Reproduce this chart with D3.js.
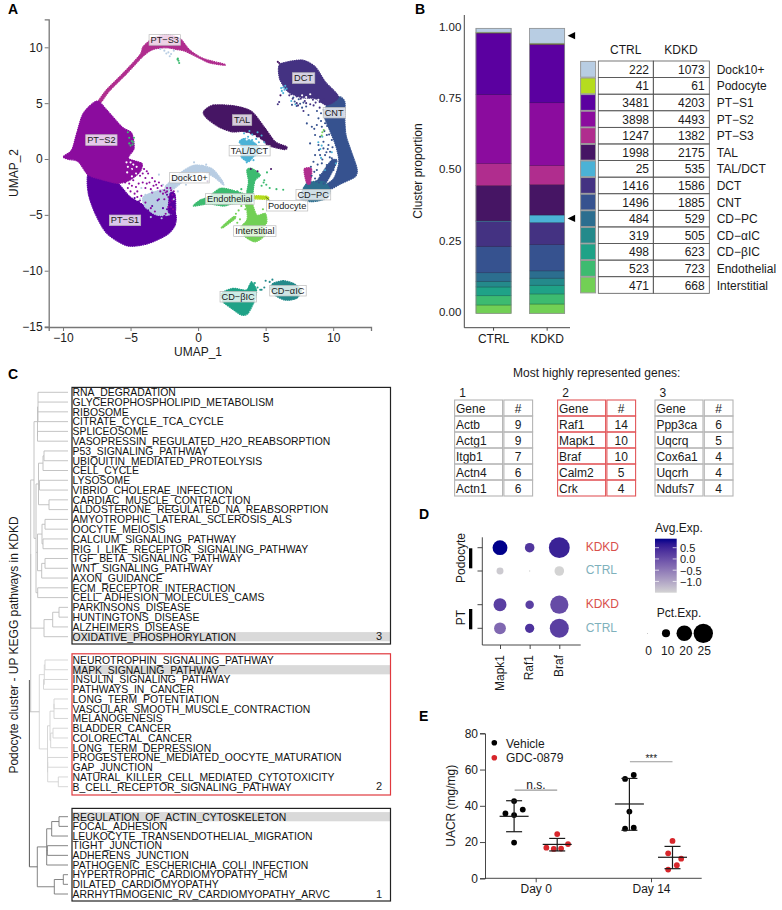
<!DOCTYPE html>
<html><head><meta charset="utf-8">
<script src="https://cdn.jsdelivr.net/npm/d3@7"></script>
<style>
html,body{margin:0;padding:0;background:#fff}
svg{display:block}
text{font-family:"Liberation Sans",Arial,sans-serif;fill:#1a1a1a}
</style></head><body><svg id="c" width="782" height="910"></svg>
<script>
// ---------- Panel A data (UMAP coordinates) ----------
const clusterColors={"Dock10+":"#B8CDE3","Podocyte":"#B5DC1E","PT-S1":"#5B00A0","PT-S2":"#8B0C9E","PT-S3":"#B02D8E","TAL":"#461564","TAL/DCT":"#4BB2D6","DCT":"#443282","CNT":"#36528F","CD-PC":"#2C6E8F","CD-aIC":"#248A8B","CD-bIC":"#1FA287","Endothelial":"#3DBB70","Interstitial":"#72D055"};
const blobs=[
["PT-S3",[[-7.41,5.13],[-6.79,6.18],[-5.56,7.67],[-4.32,9.31],[-4.07,10.06],[-3.33,10.81],[-2.35,11.1],[-1.36,10.81],[-.62,9.76],[.37,9.01],[1.9,8.51],[1.9,8.4],[.86,8.6],[.12,9.01],[-.99,9.66],[-1.6,9.81],[-2.35,9.96],[-3.33,9.81],[-4.07,9.21],[-5.31,7.62],[-6.54,6.13],[-7.16,5.13]]],
["PT-S1",[[-8.13,-1.35],[-7.01,-1.85],[-6,-2.1],[-5.04,-3.38],[-3.8,-4.27],[-2.81,-5.01],[-1.7,-4.86],[-1.7,-5.91],[-2.32,-6.8],[-3.8,-7.61],[-5.28,-7.76],[-6.76,-6.65],[-7.63,-4.86],[-8.13,-3.07]]],
["PT-S2",[[-9.98,.21],[-9.36,.81],[-8.99,2.3],[-8.5,4.09],[-7.5,5.19],[-6.76,4.39],[-5.65,2.89],[-4.91,2.3],[-4.74,.96],[-5.16,.06],[-4.17,-.39],[-4.3,-1.14],[-5.04,-1.88],[-5.9,-2.18],[-7.01,-1.88],[-8.13,-1.43],[-8.87,-.24],[-9.6,-.03]]],
["Dock10+",[[-4.05,-3.38],[-2.81,-2.78],[-2.07,-2.93],[-1.95,-4.86],[-3.06,-5.01],[-3.93,-4.27]]],
["PT-S1",[[-2.07,-3.07],[-1.7,-3.22],[-1.7,-4.86],[-2.2,-4.72]]],
["Dock10+",[[-2.44,-2.48],[-1.2,-1.14],[-.22,-.54],[1,-.84],[1.76,-1.88],[1.88,-2.33],[1.14,-1.59],[.15,-1.14],[-.96,-1.88],[-1.95,-2.78]]],
["TAL/DCT",[[3.04,1.55],[3.49,1.85],[4.23,1.4],[4.6,.65],[4.1,.2],[3.73,-.24],[3.19,.2],[3.29,1.1]]],
["TAL",[[.4,4.24],[1.14,4.83],[2.75,4.74],[3.98,4.24],[4.97,2.74],[5.71,1.55],[6.55,1.1],[6.4,.85],[5.21,1.2],[4.72,1.76],[3.49,2.44],[2.5,2.44],[1.51,2.89],[.65,3.64]]],
["CNT",[[9.53,4.83],[10.39,5.58],[10.86,5.13],[10.86,3.64],[10.95,2.15],[11.26,.96],[11.76,-.83],[11.63,-1.58],[10.64,-2.18],[9.65,-2.78],[9.28,-2.48],[10.05,-1.73],[10.42,-.24],[10.17,1.25],[9.68,2.75],[9.31,3.94]]],
["CNT",[[8.67,-2.33],[9.78,-.24],[10.27,-.24],[9.28,-2.48]]],
["DCT",[[5.95,8.12],[6.2,8.57],[7.68,8.86],[8.67,8.26],[9.41,6.92],[10.39,5.58],[9.53,4.83],[8.67,5.4],[7.68,5.5],[6.69,6.0],[6.07,7.07]]],
["CD-PC",[[8.05,-2.18],[9.28,-2.03],[9.78,-2.78],[9.53,-3.52],[8.42,-3.82],[7.56,-3.52]]],
["PT-S3",[[7.85,-.9],[8.4,-.9],[8.3,-2.18],[8.02,-2.1]]],
["CD-aIC",[[5.56,-11.13],[6.3,-10.9],[7.04,-11.13],[7.65,-11.73],[7.28,-12.48],[6.42,-12.63],[5.68,-12.18],[5.36,-11.58]]],
["CD-bIC",[[1.73,-12.03],[2.59,-11.58],[3.58,-11.73],[3.95,-10.99],[4.32,-11.73],[4.2,-12.63],[3.7,-13.82],[3.21,-13.97],[2.47,-13.37],[1.85,-12.78]]],
["Interstitial",[[3.49,-3.97],[3.98,-3.97],[4.35,-5.02],[4.97,-4.87],[5.09,-5.62],[4.84,-6.21],[4.97,-6.81],[4.23,-7.41],[3.49,-6.96],[3.12,-6.21],[3.61,-5.47],[3.61,-4.57]]],
["Interstitial",[[1.76,-6.06],[2.62,-5.17],[2.75,-5.32],[1.88,-6.12]]],
["Endothelial",[[-.34,-4.21],[.15,-3.68],[.77,-3.38],[1.63,-2.63],[2.5,-2.78],[3.98,-3.38],[3.98,-3.82],[2.5,-4.03],[1.88,-4.21],[.77,-4.03]]],
["Endothelial",[[3.61,-.99],[3.98,-.84],[4.6,-1.44],[4.23,-1.88],[4.1,-2.63],[4.03,-3.23],[3.61,-3.08],[3.73,-2.03]]],
["Podocyte",[[4.07,-3.3],[5.06,-3.33],[5.19,-3.6],[4.07,-3.55]]]
];
const scatterPoints={
"PT-S2":[[-4.9,-.6],[-4.6,-1],[-4.3,-1.5],[-5.1,-1.6],[-4.8,-1.9],[-4.4,-2.2],[-3.9,-1.7],[-3.6,-2.1],[-3.2,-2],[-3,-2.6],[-2.7,-2.4],[-2.3,-2.6],[-2,-2.8],[-3.9,-2.6],[-4.5,-2.9],[-4.9,-2.4],[-5,-2.9],[-4.2,-3.3],[-3.4,-3],[-2.2,-3.4],[-1.9,-3.2],[-2.6,-3.1],[-4.8,-.2],[-5.2,-.9],[-5.3,-1.5],[-4,-.9],[-3.7,-1.3],[-4.7,-1.4],[-5.4,-2.1],[-5.1,-2.2],[-4.6,-2.5],[-4.1,-2.1],[-3.3,-2.4],[-2.9,-2.1],[-2.5,-2.8],[-1.9,-3.7],[-2.1,-3.9],[-2,-4.3],[-1.85,-4.5],[-3.8,-2.2],[-3.5,-2.7],[-2.8,-2.9],[-2.4,-3],[-3.1,-2.3],[-2.05,-2.6],[-1.8,-2.9],[-1.75,-3.5],[-2.3,-2.9],[-4.5,-3.4],[-4.7,-3.1],[-5.2,-2.6],[-4.3,-3.7],[-3.9,-3.9],[-3.5,-4.4],[-3.2,-4.7],[-2.9,-3.6],[-2.5,-3.6],[-2.2,-4.3],[-2.4,-4.9],[-3.8,-1.1],[-4.1,-1.3],[-3.4,-1.7],[-4.9,-1.2],[-5,-.95]],
"PT-S1":[[-1.9,-3],[-2.1,-3.5],[-2,-4],[-2.3,-4.5],[-2.6,-4.4],[-3.4,-4.2],[-4.4,-3.8],[-4.7,-3.5],[-3,-3.7],[-2.3,-3.2],[-1.8,-4.2],[-4.6,-3.9],[-4.2,-4.1],[-3.7,-4.6],[-3.1,-5.2],[-2.5,-5.1]],
"Dock10+":[[-1.8,-3.6],[-2.6,-2.3],[-3.4,-2.9],[-4.2,-2.6],[-2.9,-1.4],[-1.5,-2.9],[-.9,-2.3],[.1,-1],[.3,-.6],[-.6,-.8],[-2.4,-4.7],[-3.5,-5.2],[-2.7,-5.3],[-2.2,9.55],[-2.5,9.7],[-2,9.4],[-2.8,9.85],[-1.8,9.7],[-.3,-.3],[.6,-.5],[-2.1,9.2],[-2.35,9.45],[-4.3,-3.6],[-3.9,-3.2]],
"TAL/DCT":[[3.4,2.3],[3.7,2],[4,2.2],[4.3,1.8],[3.6,1.5],[4.1,1.3],[4.5,1.5],[3.2,1.1],[3.9,.9],[4.5,1],[4.7,2.1],[3.3,.9],[4,1.7],[3.8,2.5],[4.4,2.4],[3.5,.2],[3.9,.4],[4.1,-.1],[3.6,-.3],[4.8,.9],[4.9,1.5],[6.3,6.4],[6.4,6.2],[6.2,6.1],[6.45,6.55],[6.15,6.35],[6.3,5.9],[6.55,6.3],[9.1,.1],[9.4,-1],[9.9,.6],[9.2,2],[8.9,1.5],[10.2,-.4],[9.05,.9],[9.15,1.2],[6.9,5.2],[7.2,4.9]],
"DCT":[[6.75,5.7],[7,5.4],[7.3,5],[7.6,5.4],[7.9,5.2],[8.2,5.5],[7.4,4.8],[8.5,5.3],[8.8,5.6],[9,5.1],[6,5.1],[5.9,4.9],[7.8,4.3],[9,4.6],[8.55,4.8],[9.3,5.3],[6.9,5.8],[7.3,5.6],[8.0,5.0],[8.3,4.9],[8.7,5.05]],
"CNT":[[7.05,5.5],[7.15,5.15],[7.45,5.35],[7.3,4.75],[7.55,4.95],[7.7,4.6],[6.95,4.85],[7.8,5.05],[8,4.7],[8.17,3.94],[8.05,3.19],[8.91,3.64],[8.79,3.04],[8.42,2.89],[9.16,2.89],[9.03,2],[8.66,2.15],[9.28,1.55],[8.91,1.25],[8.29,1.4],[9.53,2.15],[9.65,1.25],[8.66,.35],[8.54,-.24],[9.03,.35],[9.4,.35],[9.77,.65],[9.16,-.39],[9.53,-.54],[9.9,.06],[10.02,-.99],[9.4,-1.14],[9.03,-1.44],[8.66,-1.74],[9.65,-1.59],[8.79,-.99],[9.28,.95],[9.6,.9],[9.9,1.7],[9.35,2.5],[9.1,3.4],[9.4,3.2],[9.55,3.7],[8.6,2.7],[8.95,.8],[9.2,-.05],[8.85,-.5],[8.4,-1.5],[8.75,-2],[9.2,-1.9],[9.85,-.5],[9.3,4.4],[9.1,4.1],[8.8,4.3],[9.55,2.95],[9.7,2.2],[9.95,1.05],[9.95,-.1],[9.7,-.95],[9.5,-1.9],[9.3,-2.2],[8.95,-2.1],[8.6,-1.15],[8.35,-.7],[9.75,.15],[9.5,.6]],
"Endothelial":[[-5.1,1.4],[-4.9,1.6],[-5,1.2],[-4.8,1.5],[-5.1,1.9],[-5.2,2.4],[-4.85,1.3],[-4.75,1.9],[-1.5,9],[-1.45,8.8],[-1.4,8.6],[-1.52,8.92],[4.7,-2.4],[5.3,-2.6],[5.8,-2.7],[6.3,-2.75],[4.9,-1.9],[5.1,-1.2],[3.2,-2.7],[2.9,-2.9],[4.85,-2.1],[5.05,-2.3]],
"Interstitial":[[3,-4.6],[3.2,-4.2],[2.8,-4.9],[3.1,-5.4],[3.5,-4.5],[2.9,-5.7],[4.8,-4.5],[3.3,-3.8],[9.2,2.4],[9.15,2.1],[9.3,2.6]],
"CD-bIC":[[4,-11.3],[4.4,-11.5],[4.2,-11.1],[4.6,-11.7],[3.8,-11.4]],
"CD-aIC":[[5,-10.9],[5.3,-11],[5.5,-10.8],[4.9,-11.5],[4.7,-11.7]],
"TAL":[[5.4,-.9],[.7,-2],[6.1,5.7],[3.9,-.9],[4.4,-1.1],[5.9,8.7],[6,8.6]]
};
const gapPoints=[[-5,-.3],[-4.8,-.5],[-5.2,-.7],[-4.9,-.9],[-5.3,-.3],[-4.55,-.7],[-4.6,-1.3],[-4.9,-1.55],[-5.25,-1.2],[3.3,2.15],[3.75,2.25],[4.2,2.05],[4.5,1.85],[3.6,1.75],[8,5.55],[8.3,5.8],[8.9,5.3],[7.7,5.7]];
const umapLabels=[["PT−S3",-2.47,10.66],["PT−S2",-7.16,1.7],["PT−S1",-5.41,-5.49],["TAL",3.26,3.49],["TAL/DCT",3.8,.75],["DCT",7.8,7.25],["CNT",10.07,4.15],["Dock10+",-.64,-1.67],["Endothelial",2.35,-3.58],["CD−PC",8.52,-3.19],["Podocyte",6.59,-4.18],["Interstitial",4.2,-6.45],["CD−αIC",6.64,-11.79],["CD−βIC",2.96,-12.33]];
const umapXTicks=[-10,-5,0,5,10], umapYTicks=[-15,-10,-5,0,5,10];

// ---------- Panel B data ----------
const clusterNames=["Dock10+","Podocyte","PT-S1","PT-S2","PT-S3","TAL","TAL/DCT","DCT","CNT","CD-PC","CD-aIC","CD-bIC","Endothelial","Interstitial"];
const clusterDisplay=["Dock10+","Podocyte","PT−S1","PT−S2","PT−S3","TAL","TAL/DCT","DCT","CNT","CD−PC","CD−αIC","CD−βIC","Endothelial","Interstitial"];
const ctrlCounts=[222,41,3481,3898,1247,1998,25,1416,1496,484,319,498,523,471];
const kdkdCounts=[1073,61,4203,4493,1382,2175,535,1586,1885,529,505,623,723,668];
const propTicks=[0,.25,.5,.75,1];
const arrowValues=[.974,.333];

// ---------- Panel C data ----------
const pathways3=["RNA_DEGRADATION","GLYCEROPHOSPHOLIPID_METABOLISM","RIBOSOME","CITRATE_CYCLE_TCA_CYCLE","SPLICEOSOME","VASOPRESSIN_REGULATED_H2O_REABSORPTION","P53_SIGNALING_PATHWAY","UBIQUITIN_MEDIATED_PROTEOLYSIS","CELL_CYCLE","LYSOSOME","VIBRIO_CHOLERAE_INFECTION","CARDIAC_MUSCLE_CONTRACTION","ALDOSTERONE_REGULATED_NA_REABSORPTION","AMYOTROPHIC_LATERAL_SCLEROSIS_ALS","OOCYTE_MEIOSIS","CALCIUM_SIGNALING_PATHWAY","RIG_I_LIKE_RECEPTOR_SIGNALING_PATHWAY","TGF_BETA_SIGNALING_PATHWAY","WNT_SIGNALING_PATHWAY","AXON_GUIDANCE","ECM_RECEPTOR_INTERACTION","CELL_ADHESION_MOLECULES_CAMS","PARKINSONS_DISEASE","HUNTINGTONS_DISEASE","ALZHEIMERS_DISEASE","OXIDATIVE_PHOSPHORYLATION"];
const pathways2=["NEUROTROPHIN_SIGNALING_PATHWAY","MAPK_SIGNALING_PATHWAY","INSULIN_SIGNALING_PATHWAY","PATHWAYS_IN_CANCER","LONG_TERM_POTENTIATION","VASCULAR_SMOOTH_MUSCLE_CONTRACTION","MELANOGENESIS","BLADDER_CANCER","COLORECTAL_CANCER","LONG_TERM_DEPRESSION","PROGESTERONE_MEDIATED_OOCYTE_MATURATION","GAP_JUNCTION","NATURAL_KILLER_CELL_MEDIATED_CYTOTOXICITY","B_CELL_RECEPTOR_SIGNALING_PATHWAY"];
const pathways1=["REGULATION_OF_ACTIN_CYTOSKELETON","FOCAL_ADHESION","LEUKOCYTE_TRANSENDOTHELIAL_MIGRATION","TIGHT_JUNCTION","ADHERENS_JUNCTION","PATHOGENIC_ESCHERICHIA_COLI_INFECTION","HYPERTROPHIC_CARDIOMYOPATHY_HCM","DILATED_CARDIOMYOPATHY","ARRHYTHMOGENIC_RV_CARDIOMYOPATHY_ARVC"];
const highlighted=["OXIDATIVE_PHOSPHORYLATION","MAPK_SIGNALING_PATHWAY","REGULATION_OF_ACTIN_CYTOSKELETON"];
// dendrograms: [merge height, children...]; leaves are row indices
const tree3=[30.7,
  [34,[37.5,[38,0,1,2,3],[37.5,4,5]],
      [36,[38.5,[43,[44,6,7],8],[39.5,9,10],[49,11,12]],
          [37.5,[42,[45,13,14],[43,15,16]],[41.7,[45,17,18],19]],
          [37.7,20,21]]],
  [44,[52.7,[59,22,23],24],25]];
const tree2=[39.3,
  [44.3,[45,0,1],[43.5,2,3]],
  [47.5,[50,[54,[54,4,5],6],[50.7,[53,7,8],9]],
        [47.7,[47.7,10,11],[58.3,12,13]]]];
const tree1=[37.3,
  [46.7,[51.7,[59,0,1],2],[47.3,3,4],5],
  [54.3,[63.3,6,7],8]];

// ---------- Gene tables ----------
const genes1=["Actb","Actg1","Itgb1","Actn4","Actn1"], geneN1=[9,9,7,6,6];
const genes2=["Raf1","Mapk1","Braf","Calm2","Crk"], geneN2=[14,10,10,5,4];
const genes3=["Ppp3ca","Uqcrq","Cox6a1","Uqcrh","Ndufs7"], geneN3=[6,5,4,4,4];

// ---------- Panel D data ----------
const dotGenes=["Mapk1","Raf1","Braf"];
const dotRows=["Podocyte KDKD","Podocyte CTRL","PT KDKD","PT CTRL"];
const dotPct=[[19,12,27],[8.5,1,12],[16.5,10.5,23.5],[15,11.5,24.5]];
const dotAvg=[[.9,.3,.55],[-1.4,-1.5,-1.5],[.2,.2,.05],[-.3,.35,.2]];
const sizeLegend=[0,10,20,25], colorTicks=[.5,0,-.5,-1];

// ---------- Panel E data ----------
const days=["Day 0","Day 14"];
const vehicleD0=[42.6,37.9,35.8,34.9,19.7], vehicleD0Offset=[0,2,-2,0,0];
const gdcD0=[24.4,18.9,16.9,16.2,16.4], gdcD0Offset=[0,2.5,-2.5,-.8,.9];
const vehicleD14=[57,54.8,36.8,27.9,27.4], vehicleD14Offset=[1,-1,0,1,-1];
const gdcD14=[20.6,13.8,10.8,7.2,4.8], gdcD14Offset=[0,-1,2,1,-1];
const summaries=[[34.2,42.8,25.7],[18.7,22,15.1],[41,55.1,26.5],[11.6,17.6,5.3]]; // mean, upper, lower
const sigBars=[["n.s.",48.7],["***",64.3]];
const uacrTicks=[0,20,40,60,80];

const svg=d3.select("#c");
const FS=12;
function txt(g,x,y,s,o={}){const t=g.append("text").attr("x",x).attr("y",y).attr("font-size",o.size||FS).attr("text-anchor",o.anchor||"start").attr("dominant-baseline","central").text(s);
  if(o.fill)t.style("fill",o.fill); if(o.weight)t.attr("font-weight",o.weight); if(o.rotate!=null)t.attr("transform",`rotate(${o.rotate} ${x} ${y})`); return t;}
[["A",8,9],["B",415,9],["C",8,374],["D",419,514],["E",419,716]].forEach(d=>txt(svg,d[1],d[2],d[0],{size:14,weight:"bold",fill:"#000"}));

function styleAxis(a,col,w){a.select(".domain").attr("stroke",col).attr("stroke-width",w);a.selectAll(".tick line").attr("stroke",col).attr("stroke-width",w>1?1:w);a.selectAll("text").attr("font-size",FS).style("fill","#1a1a1a").attr("font-family","Liberation Sans");}

// ======== Panel A ========
(function(){
 const gA=svg.append("g");
 const x=d3.scaleLinear().domain([-11.06,12.8]).range([48.7,371]);
 const y=d3.scaleLinear().domain([-15.04,12.5]).range([327,19.4]);
 const line=d3.line().x(d=>x(d[0])).y(d=>y(d[1])).curve(d3.curveCardinalClosed.tension(.2));
 gA.selectAll("path.blob").data(blobs).join("path").attr("class","blob")
   .attr("d",d=>line(d[1])).attr("fill",d=>clusterColors[d[0]])
   .attr("stroke",d=>clusterColors[d[0]]).attr("stroke-width",1.3).attr("stroke-dasharray","0.5 1.6").attr("stroke-linecap","round");
 gA.append("g").selectAll("circle").data(gapPoints).join("circle").attr("cx",d=>x(d[0])).attr("cy",d=>y(d[1])).attr("r",1.1).attr("fill","#fff");
 Object.entries(scatterPoints).forEach(([k,pts])=>{
   gA.append("g").selectAll("circle").data(pts).join("circle").attr("cx",d=>x(d[0])).attr("cy",d=>y(d[1])).attr("r",1.05).attr("fill",clusterColors[k]);
 });
 // Podocyte leader
 gA.append("path").attr("d",d3.line()([[x(5.0),y(-3.4)],[x(5.3),y(-3.7)],[x(5.3),y(-4.0)]])).attr("fill","none").attr("stroke","#333").attr("stroke-width",.6);
 const lab=gA.selectAll("g.l").data(umapLabels).join("g").attr("class","l").attr("transform",d=>`translate(${x(d[1])},${y(d[2])})`);
 const lt=lab.append("text").attr("text-anchor","middle").attr("dominant-baseline","central").attr("font-size",9.2).text(d=>d[0]);
 lt.each(function(){const b=this.getBBox();d3.select(this.parentNode).insert("rect","text").attr("x",b.x-1.5).attr("y",b.y-.3).attr("width",b.width+3).attr("height",b.height+.6).attr("fill","#fff").attr("fill-opacity",.78).attr("stroke","#bbb").attr("stroke-width",.7);});
 const ax=gA.append("g").attr("transform","translate(0,327)").call(d3.axisBottom(x).tickValues(umapXTicks).tickSize(4).tickPadding(2));
 styleAxis(ax,"#777",1.3);
 const ay=gA.append("g").attr("transform","translate(48.7,0)").call(d3.axisLeft(y).tickValues(umapYTicks).tickSize(4).tickPadding(2));
 styleAxis(ay,"#777",1.3);
 txt(gA,198,352,"UMAP_1",{anchor:"middle"});
 txt(gA,14,173,"UMAP_2",{anchor:"middle",rotate:-90});
})();

// ======== Panel B ========
(function(){
 const g=svg.append("g");
 const y=d3.scaleLinear().domain([0,1]).range([313.3,28.3]);
 const x=d3.scaleBand().domain(["CTRL","KDKD"]).range([476,564.7]).paddingInner(.345).paddingOuter(0);
 const rows=[{s:"CTRL"},{s:"KDKD"}];
 clusterNames.forEach((n,i)=>{rows[0][n]=ctrlCounts[i];rows[1][n]=kdkdCounts[i];});
 const stack=d3.stack().keys(clusterNames.slice().reverse()).offset(d3.stackOffsetExpand);
 const series=stack(rows);
 g.selectAll("g.s").data(series).join("g").attr("class","s").each(function(s){
   d3.select(this).selectAll("rect").data(s).join("rect")
    .attr("x",d=>x(d.data.s)).attr("width",x.bandwidth())
    .attr("y",d=>y(d[1])).attr("height",d=>y(d[0])-y(d[1]))
    .attr("fill",clusterColors[s.key]).attr("stroke",d3.color(clusterColors[s.key]).darker(1.1)).attr("stroke-width",.6);
 });
 g.selectAll("rect.o").data(["CTRL","KDKD"]).join("rect").attr("class","o").attr("x",d=>x(d)).attr("width",x.bandwidth()).attr("y",y(1)).attr("height",y(0)-y(1)).attr("fill","none").attr("stroke","#999").attr("stroke-width",.7);
 const ax=g.append("g").attr("transform","translate(0,327.7)").call(d3.axisBottom(x).tickSize(3).tickPadding(4));
 styleAxis(ax,"#333",.9);
 ax.select(".domain").attr("d","M464.3,0H570");
 const ay=g.append("g").attr("transform","translate(464.3,0)").call(d3.axisLeft(y).tickValues(propTicks).tickFormat(d3.format(".2f")).tickSize(0).tickPadding(3));
 styleAxis(ay,"#333",.9);
 ay.select(".domain").attr("d","M0,15V327.7");
 ay.selectAll("text").attr("dy",".18em").attr("font-size",11.5);
 txt(g,418,171,"Cluster proportion",{anchor:"middle",rotate:-90});
 g.selectAll("path.ar").data(arrowValues).join("path").attr("class","ar").attr("d",d=>`M567.6,${y(d)}l7.5,-3.6v7.2z`).attr("fill","#000");
 const rowY=d3.scaleBand().domain(clusterNames).range([61,293.3]);
 txt(g,625.7,50,"CTRL",{anchor:"middle"}); txt(g,681,50,"KDKD",{anchor:"middle"});
 clusterNames.forEach((n,i)=>{
   const yy=rowY(n),h=rowY.bandwidth();
   g.append("rect").attr("x",580.6).attr("y",yy+.4).attr("width",15).attr("height",h-.8).attr("fill",clusterColors[n]).attr("stroke","#999").attr("stroke-width",1);
   g.append("rect").attr("x",598.3).attr("y",yy).attr("width",55).attr("height",h).attr("fill","none").attr("stroke","#555").attr("stroke-width",.8);
   g.append("rect").attr("x",653.3).attr("y",yy).attr("width",56).attr("height",h).attr("fill","none").attr("stroke","#555").attr("stroke-width",.8);
   txt(g,649,yy+h/2+.6,ctrlCounts[i],{anchor:"end"});
   txt(g,704.7,yy+h/2+.6,kdkdCounts[i],{anchor:"end"});
   txt(g,716.7,yy+h/2+.6,clusterDisplay[i]);
 });
})();

// ======== Panel C ========
(function(){
 const g=svg.append("g");
 const sets=[
  {names:pathways3,tree:tree3,y0:392.3,y1:636.7,box:[387.4,644],col:"#222",dc:"#bdbdbd",num:"3"},
  {names:pathways2,tree:tree2,y0:660,y1:786.7,box:[653.8,795],col:"#E0393E",dc:"#d2d2d2",num:"2"},
  {names:pathways1,tree:tree1,y0:816.7,y1:894,box:[808.4,901],col:"#222",dc:"#777",num:"1"}];
 const hx=d3.scaleLinear().domain([0,68]).range([0,68]);
 function lay(n,set,ys,color){
  if(typeof n==="number")return {x:hx(68),y:ys(n)};
  const kids=n.slice(1).map(k=>lay(k,set,ys,color));
  const X=hx(n[0]),yy=kids.map(k=>k.y),mn=d3.min(yy),mx=d3.max(yy);
  g.append("line").attr("x1",X).attr("x2",X).attr("y1",mn).attr("y2",mx).attr("stroke",color).attr("stroke-width",.9);
  kids.forEach(k=>g.append("line").attr("x1",X).attr("x2",k.x).attr("y1",k.y).attr("y2",k.y).attr("stroke",color).attr("stroke-width",.9));
  return {x:X,y:(mn+mx)/2};
 }
 const tops=sets.map(s=>{
  const ys=d3.scalePoint().domain(d3.range(s.names.length)).range([s.y0,s.y1]);
  s.names.filter(p=>highlighted.includes(p)).forEach(p=>{
    g.append("rect").attr("x",72).attr("width",318.5).attr("y",ys(s.names.indexOf(p))-4.6).attr("height",9.2).attr("fill","#d9d9d9");
  });
  const r=lay(s.tree,s,ys,s.dc);
  s.names.forEach((p,i)=>txt(g,72.6,ys(i)+.3,p,{size:10.4,fill:"#111"}));
  g.append("rect").attr("x",72).attr("y",s.box[0]).attr("width",318.5).attr("height",s.box[1]-s.box[0]).attr("fill","none").attr("stroke",s.col).attr("stroke-width",1.2);
  txt(g,379,s.y1-.5,s.num,{anchor:"middle",size:11});
  return r;
 });
 g.append("line").attr("x1",hx(30.7)).attr("x2",hx(30.7)).attr("y1",tops[0].y).attr("y2",tops[1].y).attr("stroke","#bdbdbd").attr("stroke-width",.9);
 g.append("line").attr("x1",hx(30)).attr("x2",hx(39.3)).attr("y1",tops[1].y).attr("y2",tops[1].y).attr("stroke","#bdbdbd").attr("stroke-width",.9);
 g.append("line").attr("x1",hx(29.4)).attr("x2",hx(29.4)).attr("y1",680).attr("y2",tops[2].y).attr("stroke","#444").attr("stroke-width",.9);
 g.append("line").attr("x1",hx(29.4)).attr("x2",hx(37.3)).attr("y1",tops[2].y).attr("y2",tops[2].y).attr("stroke","#666").attr("stroke-width",.9);
 txt(g,14,645,"Podocyte cluster - UP KEGG pathways in KDKD",{anchor:"middle",rotate:-90});
})();

// ======== Gene tables ========
(function(){
 const g=svg.append("g");
 txt(g,596.7,372.7,"Most highly represented genes:",{anchor:"middle"});
 const defs=[
  {t:"1",x:454.6,genes:genes1,n:geneN1,col:"#b5b5b5"},
  {t:"2",x:557.6,genes:genes2,n:geneN2,col:"#E2575A"},
  {t:"3",x:655,genes:genes3,n:geneN3,col:"#b5b5b5"}];
 const rowY=d3.scaleBand().domain(d3.range(6)).range([400,496]);
 defs.forEach(d=>{
  txt(g,d.x+4.6,392.7,d.t);
  const gs=["Gene",...d.genes], ns=["#",...d.n];
  gs.forEach((s,i)=>{
   g.append("rect").attr("x",d.x).attr("y",rowY(i)).attr("width",48).attr("height",rowY.bandwidth()).attr("fill","none").attr("stroke",d.col).attr("stroke-width",1.1);
   g.append("rect").attr("x",d.x+49.3).attr("y",rowY(i)).attr("width",28.7).attr("height",rowY.bandwidth()).attr("fill","none").attr("stroke",d.col).attr("stroke-width",1.1);
   txt(g,d.x+1.4,rowY(i)+8.6,s);
   txt(g,d.x+63.6,rowY(i)+8.6,ns[i],{anchor:"middle"});
  });
 });
})();

// ======== Panel D ========
(function(){
 const g=svg.append("g");
 const x=d3.scalePoint().domain(dotGenes).range([500,559.3]);
 const y=d3.scaleOrdinal().domain(dotRows).range([547.7,571,604.7,628.3]);
 const r=d3.scaleLinear().domain([0,25]).range([.3,9.67]);
 const c=d3.scaleLinear().domain([-1.5,.9]).range(["#D3D3D3","#00008B"]).interpolate(d3.interpolateLab);
 dotRows.forEach((row,i)=>dotGenes.forEach((ge,j)=>{
   g.append("circle").attr("cx",x(ge)).attr("cy",y(row)).attr("r",r(dotPct[i][j])).attr("fill",c(dotAvg[i][j]));
 }));
 const ax=g.append("g").attr("transform","translate(0,645)").call(d3.axisBottom(x).tickSize(4).tickPadding(2));
 styleAxis(ax,"#333",.9);ax.select(".domain").attr("d","M482.3,0H580.7");
 ax.selectAll("text").remove();
 dotGenes.forEach(ge=>txt(g,x(ge)-.5,655,ge,{anchor:"end",rotate:-90}));
 g.append("line").attr("x1",482.3).attr("x2",482.3).attr("y1",537.3).attr("y2",645).attr("stroke","#333").attr("stroke-width",.9);
 dotRows.forEach(row=>g.append("line").attr("x1",477.5).attr("x2",482.3).attr("y1",y(row)).attr("y2",y(row)).attr("stroke","#333").attr("stroke-width",.9));
 dotRows.forEach(row=>{const k=row.split(" ")[1];txt(g,585.7,y(row)-.8,k,{fill:k==="KDKD"?"#D9504C":"#7FB1BC"});});
 txt(g,461,558,"Podocyte",{anchor:"middle",rotate:-90});
 txt(g,461,617.7,"PT",{anchor:"middle",rotate:-90});
 g.append("rect").attr("x",469).attr("y",548.3).attr("width",3.3).attr("height",20).attr("fill","#000");
 g.append("rect").attr("x",469).attr("y",609).attr("width",3.3).attr("height",20.3).attr("fill","#000");
 const defs=svg.append("defs").append("linearGradient").attr("id","cb").attr("x1",0).attr("x2",0).attr("y1",1).attr("y2",0);
 d3.range(0,1.001,.1).forEach(t=>defs.append("stop").attr("offset",t).attr("stop-color",c(-1.5+2.4*t)));
 const cy=d3.scaleLinear().domain([-1.5,.9]).range([592.7,538.7]);
 txt(g,655,528,"Avg.Exp.");
 g.append("rect").attr("x",655).attr("y",538.7).attr("width",21.7).attr("height",54).attr("fill","url(#cb)");
 colorTicks.forEach(t=>{
   g.append("line").attr("x1",655).attr("x2",659).attr("y1",cy(t)).attr("y2",cy(t)).attr("stroke","#fff").attr("stroke-width",.7);
   g.append("line").attr("x1",672.7).attr("x2",676.7).attr("y1",cy(t)).attr("y2",cy(t)).attr("stroke","#fff").attr("stroke-width",.7);
   txt(g,680,cy(t)+.4,t.toFixed(1).replace("-","−"),{size:11});
 });
 txt(g,656.7,613.3,"Pct.Exp.");
 const sx=d3.scaleOrdinal().domain(sizeLegend).range([647.3,666,684.3,703.3]);
 const slx=d3.scaleOrdinal().domain(sizeLegend).range([648.7,667.7,686,704.3]);
 sizeLegend.forEach(s=>{
  g.append("circle").attr("cx",sx(s)).attr("cy",633.3).attr("r",r(s)).attr("fill","#000");
  txt(g,slx(s),650.7,s,{anchor:"middle"});
 });
})();

// ======== Panel E ========
(function(){
 const g=svg.append("g");
 const x=d3.scalePoint().domain(days).range([535.7,651]);
 const sub={Vehicle:-21.6,GDC:21.5};
 const y=d3.scaleLinear().domain([0,80]).range([878.3,733.3]);
 const groups=[
  {d:"Day 0",k:"Vehicle",v:vehicleD0,o:vehicleD0Offset,c:"#000"},
  {d:"Day 0",k:"GDC",v:gdcD0,o:gdcD0Offset,c:"#D7262B"},
  {d:"Day 14",k:"Vehicle",v:vehicleD14,o:vehicleD14Offset,c:"#000"},
  {d:"Day 14",k:"GDC",v:gdcD14,o:gdcD14Offset,c:"#D7262B"}];
 groups.forEach((gr,i)=>{
  const cx=x(gr.d)+sub[gr.k];
  g.selectAll(null).data(gr.v).join("circle").attr("cx",(d,j)=>cx+gr.o[j]*13/3).attr("cy",d=>y(d)).attr("r",2.9).attr("fill",gr.c);
  const [m,u,l]=summaries[i], col="#1a1a1a";
  const seg=(x1,x2,y1,y2)=>g.append("line").attr("x1",x1).attr("x2",x2).attr("y1",y1).attr("y2",y2).attr("stroke",col).attr("stroke-width",1.2);
  seg(cx,cx,y(u),y(l)); seg(cx-14.5,cx+14.5,y(m),y(m)); seg(cx-8,cx+8,y(u),y(u)); seg(cx-8,cx+8,y(l),y(l));
 });
 days.forEach((d,i)=>{
  const v=sigBars[i][1];
  g.append("line").attr("x1",x(d)+sub.Vehicle+.5).attr("x2",x(d)+sub.GDC).attr("y1",y(v)).attr("y2",y(v)).attr("stroke","#9a9a9a").attr("stroke-width",1.2);
  txt(g,x(d)+.3,y(v)-(i?3.6:5),sigBars[i][0],{anchor:"middle",size:i?10:12});
 });
 const ax=g.append("g").attr("transform","translate(0,878.3)").call(d3.axisBottom(x).tickSize(4).tickPadding(2));
 styleAxis(ax,"#333",.9);ax.select(".domain").attr("d","M485,0H701.7");
 const ay=g.append("g").attr("transform","translate(485,0)").call(d3.axisLeft(y).tickValues(uacrTicks).tickSize(5).tickPadding(2));
 styleAxis(ay,"#333",.9);
 txt(g,450.7,805.7,"UACR (mg/mg)",{anchor:"middle",rotate:-90});
 g.append("circle").attr("cx",494.3).attr("cy",742.7).attr("r",2.8).attr("fill","#000");
 g.append("circle").attr("cx",494.3).attr("cy",757.7).attr("r",2.8).attr("fill","#D7262B");
 txt(g,506,743.7,"Vehicle"); txt(g,506,757.7,"GDC-0879");
})();
</script></body></html>
